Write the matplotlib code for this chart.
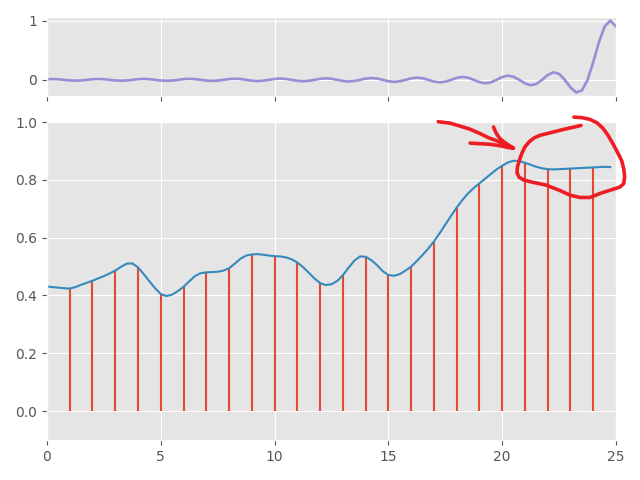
import numpy as np
import matplotlib.pyplot as plt

plt.style.use('ggplot')

# stem samples
sample_x = list(range(1, 25))
sample_y = [0.424, 0.451, 0.487, 0.498, 0.402, 0.429, 0.480, 0.494, 0.542, 0.536,
            0.514, 0.442, 0.471, 0.535, 0.471, 0.500, 0.585, 0.702, 0.788, 0.849,
            0.859, 0.837, 0.839, 0.843]

# smooth curve through the samples (read every 0.25)
curve_x = np.arange(0, 24.76, 0.25)
curve_y = [0.431, 0.429, 0.427, 0.425, 0.424, 0.429, 0.437, 0.444, 0.451, 0.459,
           0.467, 0.476, 0.486, 0.499, 0.510, 0.511, 0.497, 0.474, 0.449, 0.425,
           0.405, 0.398, 0.403, 0.415, 0.430, 0.449, 0.467, 0.477, 0.480, 0.481,
           0.482, 0.486, 0.494, 0.510, 0.527, 0.538, 0.542, 0.543, 0.541, 0.538,
           0.536, 0.535, 0.532, 0.525, 0.514, 0.498, 0.479, 0.459, 0.443, 0.436,
           0.439, 0.450, 0.470, 0.496, 0.520, 0.535, 0.534, 0.522, 0.505, 0.484,
           0.471, 0.468, 0.474, 0.486, 0.500, 0.519, 0.540, 0.562, 0.587, 0.615,
           0.645, 0.675, 0.704, 0.730, 0.753, 0.772, 0.788, 0.804, 0.820, 0.836,
           0.849, 0.860, 0.866, 0.865, 0.859, 0.852, 0.845, 0.840, 0.837, 0.836,
           0.837, 0.838, 0.839, 0.840, 0.841, 0.842, 0.843, 0.844, 0.845, 0.844]

# kernel shown in the top panel (read every 0.25)
kernel_x = np.arange(0, 25.01, 0.25)
kernel_y = [0.009, 0.013, 0.009, 0.0, -0.009, -0.014, -0.010, 0.0, 0.010, 0.014,
            0.010, 0.0, -0.010, -0.015, -0.011, 0.0, 0.011, 0.016, 0.011, 0.0,
            -0.011, -0.016, -0.012, 0.0, 0.012, 0.017, 0.012, 0.0, -0.013, -0.018,
            -0.013, 0.0, 0.013, 0.019, 0.014, 0.0, -0.014, -0.021, -0.015, 0.0,
            0.015, 0.022, 0.016, 0.0, -0.016, -0.024, -0.017, 0.0, 0.018, 0.025,
            0.018, 0.0, -0.019, -0.028, -0.020, 0.0, 0.021, 0.030, 0.022, 0.0,
            -0.023, -0.034, -0.024, 0.0, 0.026, 0.037, 0.027, 0.0, -0.029, -0.042,
            -0.031, 0.0, 0.033, 0.049, 0.036, 0.0, -0.039, -0.058, -0.043, 0.0,
            0.047, 0.071, 0.053, 0.0, -0.060, -0.091, -0.069, 0.0, 0.082, 0.127,
            0.100, 0.0, -0.129, -0.212, -0.180, 0.0, 0.300, 0.637, 0.900, 1.0,
            0.900]

# hand-drawn red marks (data coords of the lower panel)
arrow_shaft_x = [17.19, 17.71, 18.15, 18.59, 19.03, 19.39, 19.76, 20.12, 20.49]
arrow_shaft_y = [1.001, 0.996, 0.986, 0.975, 0.960, 0.946, 0.935, 0.923, 0.910]
arrow_low_x = [18.59, 19.03, 19.47, 19.90, 20.25, 20.49]
arrow_low_y = [0.927, 0.925, 0.923, 0.918, 0.912, 0.909]
arrow_barb_x = [19.62, 19.68, 19.77, 19.90, 20.08, 20.30, 20.49]
arrow_barb_y = [0.983, 0.971, 0.957, 0.943, 0.931, 0.919, 0.910]
loop_x = [23.46, 23.07, 22.67, 22.32, 21.97, 21.66, 21.40, 21.18, 21.00, 20.87,
          20.76, 20.67, 20.65, 20.74, 20.96, 21.31, 21.92, 22.54, 22.98, 23.42,
          23.86, 24.30, 24.82, 25.17, 25.34, 25.38, 25.34, 25.25, 25.08, 24.87,
          24.65, 24.43, 24.17, 23.86, 23.51, 23.15]
loop_y = [0.988, 0.981, 0.974, 0.967, 0.960, 0.954, 0.945, 0.931, 0.914, 0.893,
          0.869, 0.845, 0.825, 0.809, 0.799, 0.792, 0.782, 0.763, 0.747, 0.739,
          0.739, 0.753, 0.766, 0.775, 0.787, 0.811, 0.838, 0.866, 0.893, 0.924,
          0.954, 0.978, 0.997, 1.009, 1.015, 1.017]

fig = plt.figure(figsize=(6.4, 4.8), dpi=100)
ax_top = fig.add_axes([0.0734, 0.80, 0.8891, 0.1646])
ax = fig.add_axes([0.0734, 0.0833, 0.8891, 0.6625], sharex=ax_top)

ax_top.plot(kernel_x, kernel_y, color='#988ED5', lw=1.9)
ax_top.set_yticks([0, 1])
ax_top.tick_params(labelbottom=False)

ax.vlines(sample_x, 0, sample_y, color='#E24A33', lw=1.5)
ax.plot(curve_x, curve_y, color='#348ABD', lw=1.5)
ax.set_xlim(0, 25)
ax.set_ylim(-0.1, 1.0)
ax.set_xticks([0, 5, 10, 15, 20, 25])
ax.set_yticks([0.0, 0.2, 0.4, 0.6, 0.8, 1.0])

red = '#EE1D23'
for xs, ys in [(arrow_shaft_x, arrow_shaft_y), (arrow_low_x, arrow_low_y),
               (arrow_barb_x, arrow_barb_y), (loop_x, loop_y)]:
    ax.plot(xs, ys, color=red, lw=2.6, solid_capstyle='round',
            solid_joinstyle='round', clip_on=False, zorder=5)

fig.savefig('out.png', dpi=100)
